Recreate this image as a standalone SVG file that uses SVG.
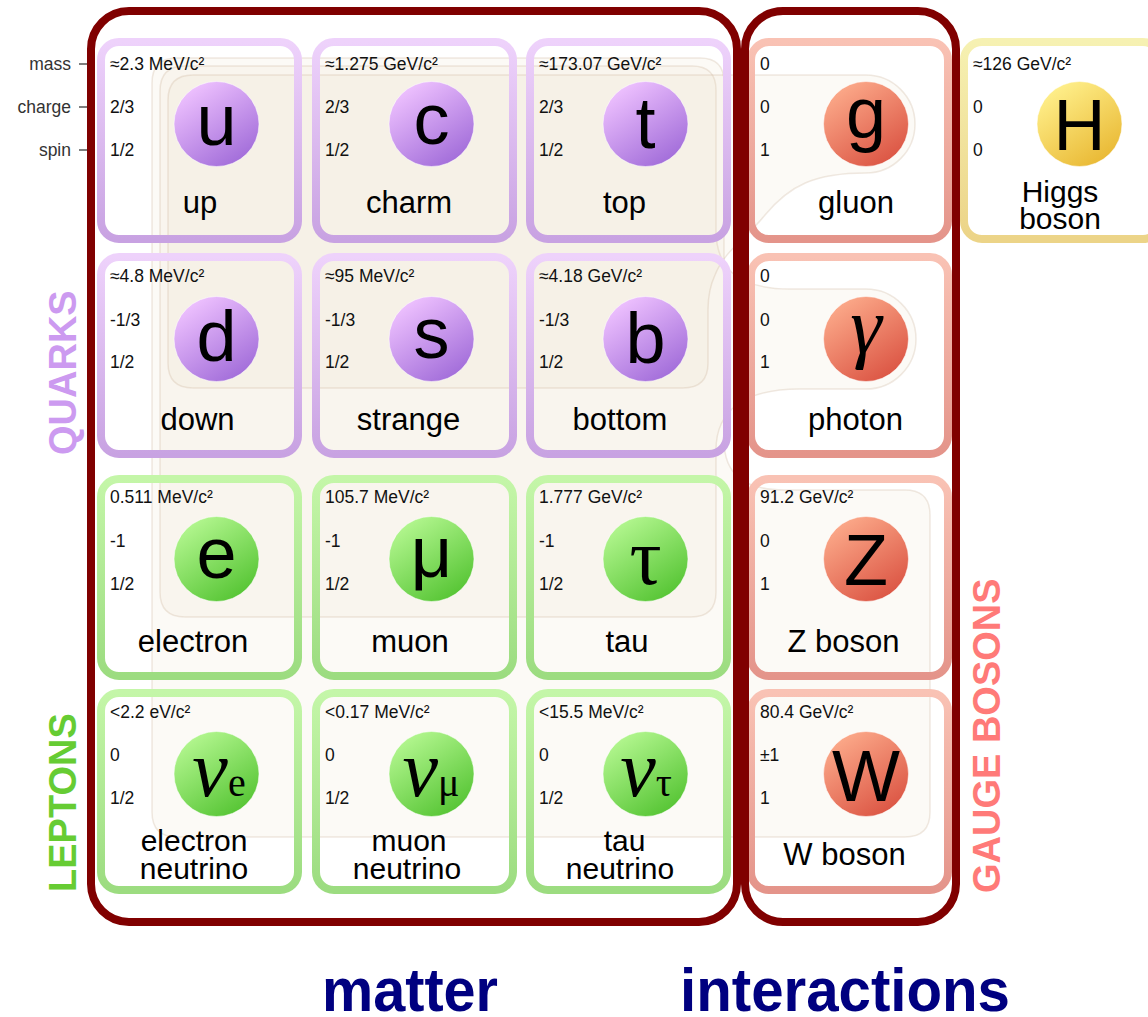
<svg xmlns="http://www.w3.org/2000/svg" width="1148" height="1017" viewBox="0 0 1148 1017">
<defs>
<linearGradient id="qb" x1="0" y1="0" x2="0" y2="1"><stop offset="0" stop-color="#eed2fb"/><stop offset="1" stop-color="#c8a2e2"/></linearGradient>
<linearGradient id="lb" x1="0" y1="0" x2="0" y2="1"><stop offset="0" stop-color="#c4f6a8"/><stop offset="1" stop-color="#9cdc80"/></linearGradient>
<linearGradient id="gb" x1="0" y1="0" x2="0" y2="1"><stop offset="0" stop-color="#f9c2b4"/><stop offset="1" stop-color="#e4948a"/></linearGradient>
<linearGradient id="hb" x1="0" y1="0" x2="0" y2="1"><stop offset="0" stop-color="#f6f1b2"/><stop offset="1" stop-color="#ecd488"/></linearGradient>
<linearGradient id="qc" x1="0.2" y1="0.05" x2="0.8" y2="0.95"><stop offset="0" stop-color="#efc2ff"/><stop offset="1" stop-color="#a16cd9"/></linearGradient>
<linearGradient id="lc" x1="0.2" y1="0.05" x2="0.8" y2="0.95"><stop offset="0" stop-color="#b4f790"/><stop offset="1" stop-color="#55c433"/></linearGradient>
<linearGradient id="gc" x1="0.2" y1="0.05" x2="0.8" y2="0.95"><stop offset="0" stop-color="#fcaa8a"/><stop offset="1" stop-color="#db5443"/></linearGradient>
<linearGradient id="hc" x1="0.2" y1="0.05" x2="0.8" y2="0.95"><stop offset="0" stop-color="#fff08c"/><stop offset="1" stop-color="#e9b833"/></linearGradient>
</defs>
<style>
.bg{fill:#e8d8bc;fill-opacity:0.13;stroke:#c8af96;stroke-opacity:0.28;stroke-width:1.5}
.cell{fill:none;stroke-width:8}
.q .cell{stroke:url(#qb)} .l .cell{stroke:url(#lb)} .g .cell{stroke:url(#gb)} .h .cell{stroke:url(#hb)}
.q circle{fill:url(#qc)} .l circle{fill:url(#lc)} .g circle{fill:url(#gc)} .h circle{fill:url(#hc)}
circle{stroke:#ffffff;stroke-opacity:0.5;stroke-width:1}
.v{font-family:"Liberation Sans",Arial,sans-serif;font-size:17.5px;fill:#111}
.n{font-family:"Liberation Sans",Arial,sans-serif;font-size:31px;fill:#000;text-anchor:middle}
.n2{font-family:"Liberation Sans",Arial,sans-serif;font-size:30px;fill:#000;text-anchor:middle}
.s{font-family:"Liberation Sans",Arial,sans-serif;font-size:72px;fill:#000;text-anchor:middle}
.sr{font-family:"Liberation Serif","Times New Roman",serif;font-size:80px;fill:#000;text-anchor:middle}
.lab{font-family:"Liberation Sans",Arial,sans-serif;font-size:17.5px;fill:#333;text-anchor:end}
.side{font-family:"Liberation Sans",Arial,sans-serif;font-size:38px;font-weight:bold}
.big{font-family:"Liberation Sans",Arial,sans-serif;font-size:62px;font-weight:bold;fill:#000080}
.box{fill:none;stroke:#800000;stroke-width:8}
.tick{stroke:#555;stroke-width:1.5}
</style>
<rect width="1148" height="1017" fill="#ffffff"/>
<g id="interaction-areas">
<path class="bg" d="M 177,58 H 700 Q 724,58 724,82 V 440 C 724,475 745,490 785,490 H 905 Q 930,490 930,515 V 812 Q 930,837 905,837 H 177 Q 152,837 152,812 V 83 Q 152,58 177,58 Z"/>
<path class="bg" d="M 185,66 H 692 Q 716,66 716,90 V 230 C 716,270 740,289 790,289 H 866 A 50,50 0 0 1 866,389 H 800 C 745,389 716,410 716,450 V 592 Q 716,617 691,617 H 185 Q 160,617 160,592 V 91 Q 160,66 185,66 Z"/>
<path class="bg" d="M 193,75 H 866 A 49,49 0 0 1 866,173 C 815,173 790,185 765,215 C 745,240 725,250 715,275 Q 708,290 708,310 V 363 Q 708,388 683,388 H 193 Q 168,388 168,363 V 100 Q 168,75 193,75 Z"/>
</g>
<g id="connectors">
<line class="tick" x1="79" y1="64" x2="88" y2="64"/>
<line class="tick" x1="79" y1="107" x2="88" y2="107"/>
<line class="tick" x1="79" y1="150" x2="88" y2="150"/>
</g>
<g id="property-labels">
<text class="lab" x="71" y="70">mass</text>
<text class="lab" x="71" y="113">charge</text>
<text class="lab" x="71" y="156">spin</text>
</g>

<g id="up" class="q">
<rect class="cell" x="101" y="42" width="197" height="197" rx="18"/>
<circle cx="216.5" cy="124" r="42.5"/>
<text class="v" x="110" y="70">≈2.3 MeV/c²</text><text class="v" x="110" y="113">2/3</text><text class="v" x="110" y="156">1/2</text>
<text class="s" x="216.5" y="145">u</text>
<text class="n" x="200" y="213">up</text>
</g>
<g id="charm" class="q">
<rect class="cell" x="316" y="42" width="197" height="197" rx="18"/>
<circle cx="431.5" cy="124" r="42.5"/>
<text class="v" x="325" y="70">≈1.275 GeV/c²</text><text class="v" x="325" y="113">2/3</text><text class="v" x="325" y="156">1/2</text>
<text class="s" x="431.5" y="144">c</text>
<text class="n" x="409" y="213">charm</text>
</g>
<g id="top" class="q">
<rect class="cell" x="530" y="42" width="197" height="197" rx="18"/>
<circle cx="645.5" cy="124" r="42.5"/>
<text class="v" x="539" y="70">≈173.07 GeV/c²</text><text class="v" x="539" y="113">2/3</text><text class="v" x="539" y="156">1/2</text>
<text class="s" x="645.5" y="148">t</text>
<text class="n" x="624.5" y="213">top</text>
</g>
<g id="down" class="q">
<rect class="cell" x="101" y="257" width="197" height="197" rx="18"/>
<circle cx="216.5" cy="339" r="42.5"/>
<text class="v" x="110" y="282">≈4.8 MeV/c²</text><text class="v" x="110" y="326">-1/3</text><text class="v" x="110" y="368">1/2</text>
<text class="s" x="216.5" y="361">d</text>
<text class="n" x="197.5" y="430">down</text>
</g>
<g id="strange" class="q">
<rect class="cell" x="316" y="257" width="197" height="197" rx="18"/>
<circle cx="431.5" cy="339" r="42.5"/>
<text class="v" x="325" y="282">≈95 MeV/c²</text><text class="v" x="325" y="326">-1/3</text><text class="v" x="325" y="368">1/2</text>
<text class="s" x="431.5" y="358">s</text>
<text class="n" x="408.5" y="430">strange</text>
</g>
<g id="bottom" class="q">
<rect class="cell" x="530" y="257" width="197" height="197" rx="18"/>
<circle cx="645.5" cy="339" r="42.5"/>
<text class="v" x="539" y="282">≈4.18 GeV/c²</text><text class="v" x="539" y="326">-1/3</text><text class="v" x="539" y="368">1/2</text>
<text class="s" x="645.5" y="363">b</text>
<text class="n" x="620" y="430">bottom</text>
</g>
<g id="electron" class="l">
<rect class="cell" x="101" y="479" width="197" height="197" rx="18"/>
<circle cx="216.5" cy="559" r="42.5"/>
<text class="v" x="110" y="503">0.511 MeV/c²</text><text class="v" x="110" y="547">-1</text><text class="v" x="110" y="590">1/2</text>
<text class="s" x="216.5" y="578">e</text>
<text class="n" x="193" y="652">electron</text>
</g>
<g id="muon" class="l">
<rect class="cell" x="316" y="479" width="197" height="197" rx="18"/>
<circle cx="431.5" cy="559" r="42.5"/>
<text class="v" x="325" y="503">105.7 MeV/c²</text><text class="v" x="325" y="547">-1</text><text class="v" x="325" y="590">1/2</text>
<text class="s" x="431.5" y="577">μ</text>
<text class="n" x="410" y="652">muon</text>
</g>
<g id="tau" class="l">
<rect class="cell" x="530" y="479" width="197" height="197" rx="18"/>
<circle cx="645.5" cy="559" r="42.5"/>
<text class="v" x="539" y="503">1.777 GeV/c²</text><text class="v" x="539" y="547">-1</text><text class="v" x="539" y="590">1/2</text>
<text class="sr" x="645.5" y="584">τ</text>
<text class="n" x="627" y="652">tau</text>
</g>
<g id="electron-neutrino" class="l">
<rect class="cell" x="101" y="693" width="197" height="197" rx="18"/>
<circle cx="216.5" cy="774" r="42.5"/>
<text class="v" x="110" y="718">&lt;2.2 eV/c²</text><text class="v" x="110" y="761">0</text><text class="v" x="110" y="804">1/2</text>
<text class="sr" x="219" y="796"><tspan font-style="italic">ν</tspan><tspan font-size="40">e</tspan></text>
<text class="n2" x="194" y="851">electron</text><text class="n2" x="194" y="879">neutrino</text>
</g>
<g id="muon-neutrino" class="l">
<rect class="cell" x="316" y="693" width="197" height="197" rx="18"/>
<circle cx="431.5" cy="774" r="42.5"/>
<text class="v" x="325" y="718">&lt;0.17 MeV/c²</text><text class="v" x="325" y="761">0</text><text class="v" x="325" y="804">1/2</text>
<text class="sr" x="431" y="796"><tspan font-style="italic">ν</tspan><tspan font-size="40">μ</tspan></text>
<text class="n2" x="409" y="851">muon</text><text class="n2" x="407" y="879">neutrino</text>
</g>
<g id="tau-neutrino" class="l">
<rect class="cell" x="530" y="693" width="197" height="197" rx="18"/>
<circle cx="645.5" cy="774" r="42.5"/>
<text class="v" x="539" y="718">&lt;15.5 MeV/c²</text><text class="v" x="539" y="761">0</text><text class="v" x="539" y="804">1/2</text>
<text class="sr" x="646" y="796"><tspan font-style="italic">ν</tspan><tspan font-size="40">τ</tspan></text>
<text class="n2" x="624.5" y="851">tau</text><text class="n2" x="620" y="879">neutrino</text>
</g>
<g id="gluon" class="g">
<rect class="cell" x="751" y="42" width="197" height="197" rx="18"/>
<circle cx="866" cy="124" r="42.5"/>
<text class="v" x="760" y="70">0</text><text class="v" x="760" y="113">0</text><text class="v" x="760" y="156">1</text>
<text class="s" x="866" y="138">g</text>
<text class="n" x="856" y="213">gluon</text>
</g>
<g id="photon" class="g">
<rect class="cell" x="751" y="257" width="197" height="197" rx="18"/>
<circle cx="866" cy="339" r="42.5"/>
<text class="v" x="760" y="282">0</text><text class="v" x="760" y="326">0</text><text class="v" x="760" y="368">1</text>
<text class="sr" x="866" y="353" font-style="italic">γ</text>
<text class="n" x="855.5" y="430">photon</text>
</g>
<g id="z-boson" class="g">
<rect class="cell" x="751" y="479" width="197" height="197" rx="18"/>
<circle cx="866" cy="559" r="42.5"/>
<text class="v" x="760" y="503">91.2 GeV/c²</text><text class="v" x="760" y="547">0</text><text class="v" x="760" y="590">1</text>
<text class="s" x="866" y="585">Z</text>
<text class="n" x="843.5" y="652">Z boson</text>
</g>
<g id="w-boson" class="g">
<rect class="cell" x="751" y="693" width="197" height="197" rx="18"/>
<circle cx="866" cy="774" r="42.5"/>
<text class="v" x="760" y="718">80.4 GeV/c²</text><text class="v" x="760" y="761">±1</text><text class="v" x="760" y="804">1</text>
<text class="s" x="866" y="801">W</text>
<text class="n" x="844.5" y="865">W boson</text>
</g>
<g id="higgs" class="h">
<rect class="cell" x="964" y="42" width="197" height="197" rx="18"/>
<circle cx="1079.5" cy="124" r="42.5"/>
<text class="v" x="973" y="70">≈126 GeV/c²</text><text class="v" x="973" y="113">0</text><text class="v" x="973" y="156">0</text>
<text class="s" x="1079.5" y="150">H</text>
<text class="n2" x="1060" y="202">Higgs</text><text class="n2" x="1060" y="229">boson</text>
</g>

<g id="matter-box"><rect class="box" x="91" y="11" width="646" height="911" rx="38"/></g>
<g id="interactions-box"><rect class="box" x="745" y="11" width="211" height="911" rx="38"/></g>

<g id="group-labels">
<text class="side" fill="#cc9af0" transform="translate(76,455) rotate(-90)">QUARKS</text>
<text class="side" fill="#66cc33" transform="translate(76,892) rotate(-90)">LEPTONS</text>
<text class="side" fill="#ff7a78" transform="translate(1000,893) rotate(-90)">GAUGE BOSONS</text>
</g>
<g id="footer">
<text class="big" x="322" y="1011" textLength="176" lengthAdjust="spacingAndGlyphs">matter</text>
<text class="big" x="680" y="1011" textLength="330" lengthAdjust="spacingAndGlyphs">interactions</text>
</g>
</svg>
